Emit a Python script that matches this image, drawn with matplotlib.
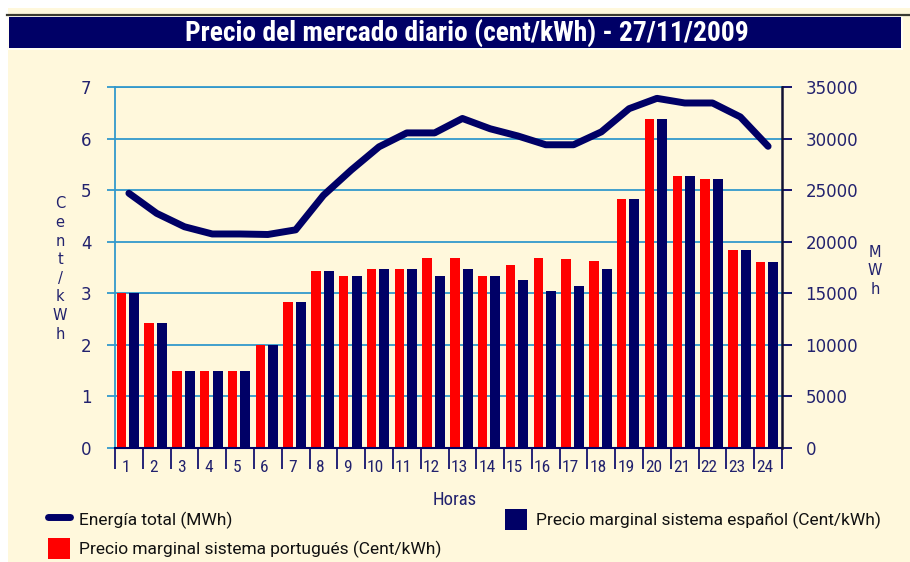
import numpy as np
import matplotlib
matplotlib.use('Agg')
import matplotlib.pyplot as plt
from matplotlib.patches import Rectangle, Patch
from matplotlib.lines import Line2D

# datos del mercado diario 27/11/2009
horas = list(range(1, 25))
precio_pt = [3.00, 2.43, 1.50, 1.50, 1.50, 2.00, 2.84, 3.44, 3.34, 3.48, 3.48, 3.69,
             3.69, 3.34, 3.55, 3.69, 3.66, 3.62, 4.82, 6.37, 5.27, 5.21, 3.83, 3.61]
precio_es = [3.00, 2.43, 1.50, 1.50, 1.50, 2.00, 2.84, 3.44, 3.34, 3.48, 3.48, 3.34,
             3.48, 3.34, 3.26, 3.05, 3.15, 3.48, 4.82, 6.37, 5.27, 5.21, 3.83, 3.61]
energia = [24700, 22750, 21450, 20750, 20750, 20700, 21150, 24500, 26950, 29200, 30550, 30550,
           31950, 30950, 30250, 29400, 29400, 30650, 32900, 33900, 33450, 33450, 32100, 29250]

titulo = 'Precio del mercado diario (cent/kWh) - 27/11/2009'
NAVY = '#000066'
RED = '#FF0000'
GRID = '#3399CC'
TXT = '#22226E'
CREAM = '#FFF8DC'
NARROW = ['Roboto Condensed', 'Roboto', 'DejaVu Sans']
LEGFONT = ['Roboto', 'DejaVu Sans']

fig = plt.figure(figsize=(9.10, 5.62), dpi=100, facecolor='white')
W, H = 910.0, 562.0

def fx(px):
    return px / W

def fy(py):
    return 1 - py / H

# fondo crema y barra de titulo
fig.patches.append(Rectangle((fx(8), 0), 1 - fx(8), fy(8), transform=fig.transFigure,
                             facecolor=CREAM, edgecolor='none', zorder=-10))
fig.patches.append(Rectangle((fx(7), fy(50)), fx(896), 36 / H, transform=fig.transFigure,
                             facecolor='#FFFDF3', edgecolor='none', zorder=-9))
fig.patches.append(Rectangle((fx(9), fy(48)), fx(892), 31 / H, transform=fig.transFigure,
                             facecolor=NAVY, edgecolor='none', zorder=-8))
fig.lines.append(Line2D([fx(7), 1], [fy(14.5), fy(14.5)], transform=fig.transFigure,
                        color='#3A3A30', lw=1.6))
fig.text(fx(467), fy(33), titulo, color='white', fontsize=19.8, fontweight='bold',
         family=NARROW, ha='center', va='center')

ax = fig.add_axes([fx(115), fy(448), fx(782 - 115), (448 - 87) / H])
ax.set_facecolor('none')
x = np.array(horas)

ax.bar(x - 0.27, precio_pt, width=0.34, color=RED, zorder=3)
ax.bar(x + 0.19, precio_es, width=0.36, color=NAVY, zorder=3)

ax.set_xlim(0.5, 24.5)
ax.set_ylim(0, 7)
ax.set_yticks(range(0, 8))
ax.set_axisbelow(True)
ax.grid(axis='y', color=GRID, lw=1.3)
ax.grid(axis='x', visible=False)

ax.spines['right'].set_visible(False)
ax.spines['top'].set_color(GRID)
ax.spines['top'].set_linewidth(1.3)
ax.spines['left'].set_color(GRID)
ax.spines['left'].set_linewidth(1.3)
ax.spines['bottom'].set_color(NAVY)
ax.spines['bottom'].set_linewidth(1.5)
ax.spines['bottom'].set_zorder(4)

ax.tick_params(axis='y', colors=GRID, length=6, width=1.3, labelcolor=TXT,
               labelsize=12, pad=11)
ax.set_xticks(np.arange(0.5, 25, 1))
ax.set_xticklabels([])
ax.tick_params(axis='x', which='major', colors=NAVY, length=15, width=1.2)
ax.set_xticks(x - 0.12, minor=True)
ax.set_xticklabels([str(h) for h in horas], minor=True, family=NARROW)
ax.tick_params(axis='x', which='minor', length=0, pad=9, labelsize=12.5, labelcolor=TXT)

ax2 = ax.twinx()
ax2.plot(x, energia, color=NAVY, lw=5, solid_capstyle='round', solid_joinstyle='round',
         zorder=5)
ax2.set_ylim(0, 35000)
ax2.set_yticks(range(0, 35001, 5000))
for s in ['top', 'left', 'bottom']:
    ax2.spines[s].set_visible(False)
ax2.spines['right'].set_color('#111133')
ax2.spines['right'].set_linewidth(1.8)
ax2.tick_params(axis='y', colors=NAVY, length=7, width=1.3, labelcolor=TXT,
                labelsize=12, pad=10)

# etiquetas de los ejes
fig.text(fx(60), fy(269), '\n'.join('Cent/kWh'), color=TXT, fontsize=10.5,
         ha='center', va='center', linespacing=1.3)
fig.text(fx(875), fy(271), '\n'.join('MWh'), color=TXT, fontsize=10.5,
         ha='center', va='center', linespacing=1.3)
fig.text(fx(455), fy(500), 'Horas', color=TXT, fontsize=13.5, family=NARROW,
         ha='center', va='center')

handles = [
    Line2D([], [], color=NAVY, lw=5, solid_capstyle='round'),
    Patch(facecolor=RED, edgecolor='none'),
    Patch(facecolor=NAVY, edgecolor='none'),
]
labels = ['Energía total (MWh)',
          'Precio marginal sistema portugués (Cent/kWh)',
          'Precio marginal sistema español (Cent/kWh)']
leg = fig.legend(handles, labels, loc='upper left', bbox_to_anchor=(fx(48), fy(509)),
                 ncol=2, frameon=False, prop={'family': LEGFONT, 'size': 12.5},
                 handlelength=1.25, handleheight=1.45, handletextpad=0.55,
                 columnspacing=3.65, labelspacing=0.5, borderaxespad=0, borderpad=0)
for t in leg.get_texts():
    t.set_color('#111111')

fig.savefig('out.png', dpi=100, facecolor='white')
